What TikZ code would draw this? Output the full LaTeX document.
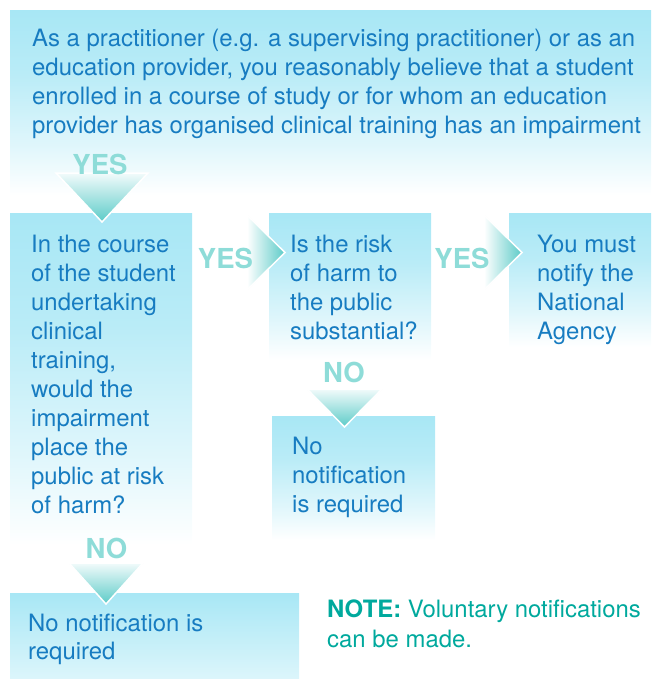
\documentclass[tikz,border=0pt]{standalone}
\usepackage{fontspec}
\setmainfont{TeX Gyre Heros}
\definecolor{boxc}{HTML}{A8E7F5}
\colorlet{boxcA}{boxc!35!white}
\colorlet{boxcB}{boxc!80!white}
\colorlet{boxcC}{boxc!40!white}
\definecolor{txtc}{HTML}{177CC1}
\definecolor{lblc}{HTML}{8EDCD8}
\definecolor{notec}{HTML}{00A99D}
\definecolor{trilight}{HTML}{F2FBFB}
\definecolor{tridark}{HTML}{5CCBC8}
\pgfdeclareverticalshading{boxfade}{100bp}{color(0bp)=(white); color(25bp)=(white); color(38bp)=(boxcA); color(58bp)=(boxcB); color(75bp)=(boxc); color(100bp)=(boxc)}
\pgfdeclareverticalshading{boxfadeb}{100bp}{color(0bp)=(boxcC); color(25bp)=(boxcC); color(75bp)=(boxc); color(100bp)=(boxc)}
\tikzset{
  txt/.style={anchor=north west, inner sep=0pt, align=left, text=txtc, font=\fontsize{23.9}{29}\selectfont},
  lbl/.style={anchor=base, inner sep=0pt, text=lblc, font=\fontsize{27.5}{30}\selectfont\bfseries},
  boxbg/.style={shading=boxfade},
  boxbgb/.style={shading=boxfadeb},
  dtri/.style={top color=trilight, bottom color=tridark, draw=white, line width=1.5pt, line join=miter},
  rtri/.style={left color=white, right color=tridark, draw=white, line width=1.5pt, line join=miter}
}
\begin{document}
\begin{tikzpicture}[x=1pt,y=-1pt]
\useasboundingbox (0,0) rectangle (651,679);
% boxes
\shade[boxbg] (10,11) rectangle (651,195);
\shade[boxbg] (10,213) rectangle (192,545);
\shade[boxbg] (269,213) rectangle (431,360);
\shade[boxbg] (509,213) rectangle (651,347);
\shade[boxbg] (272,416) rectangle (435,540);
\shade[boxbgb] (10,593) rectangle (299,679);
% arrows
\shade[dtri] (56,173) -- (148,173) -- (102,222) -- cycle;
\shade[dtri] (307,389) -- (382,389) -- (344.5,427) -- cycle;
\shade[dtri] (69,563) -- (143,563) -- (106,604) -- cycle;
\shade[rtri] (247,215) -- (285,252.5) -- (247,290) -- cycle;
\shade[rtri] (484,215) -- (522,252.5) -- (484,290) -- cycle;
% labels
\node[lbl] (yes1) at (100,175) {YES};
\node[lbl] (yes2) at (225.5,268) {YES};
\node[lbl] (yes3) at (462,268) {YES};
\node[lbl] (no1) at (344,382) {NO};
\node[lbl] (no2) at (106.5,558) {NO};
% texts
\node[txt] (start) at (32,25.7) {\strut As a practitioner (e.g. a supervising practitioner) or as an\\education provider, you reasonably believe that a student\\enrolled in a course of study or for whom an education\\provider has organised clinical training has an impairment};
\node[txt] (q1) at (31,231.7) {\strut In the course\\of the student\\undertaking\\clinical\\training,\\would the\\impairment\\place the\\public at risk\\of harm?};
\node[txt] (q2) at (290,231.7) {\strut Is the risk\\of harm to\\the public\\substantial?};
\node[txt] (must) at (537,231.7) {\strut You must\\notify the\\National\\Agency};
\node[txt] (none2) at (292,433.7) {\strut No\\notification\\is required};
\node[txt, font=\fontsize{23.9}{28}\selectfont] (none1) at (28,611.7) {\strut No notification is\\required};
\node[txt, text=notec, font=\fontsize{23.9}{30.5}\selectfont] (note) at (327,595.7) {\strut\textbf{NOTE:} Voluntary notifications\\can be made.};
\end{tikzpicture}
\end{document}
